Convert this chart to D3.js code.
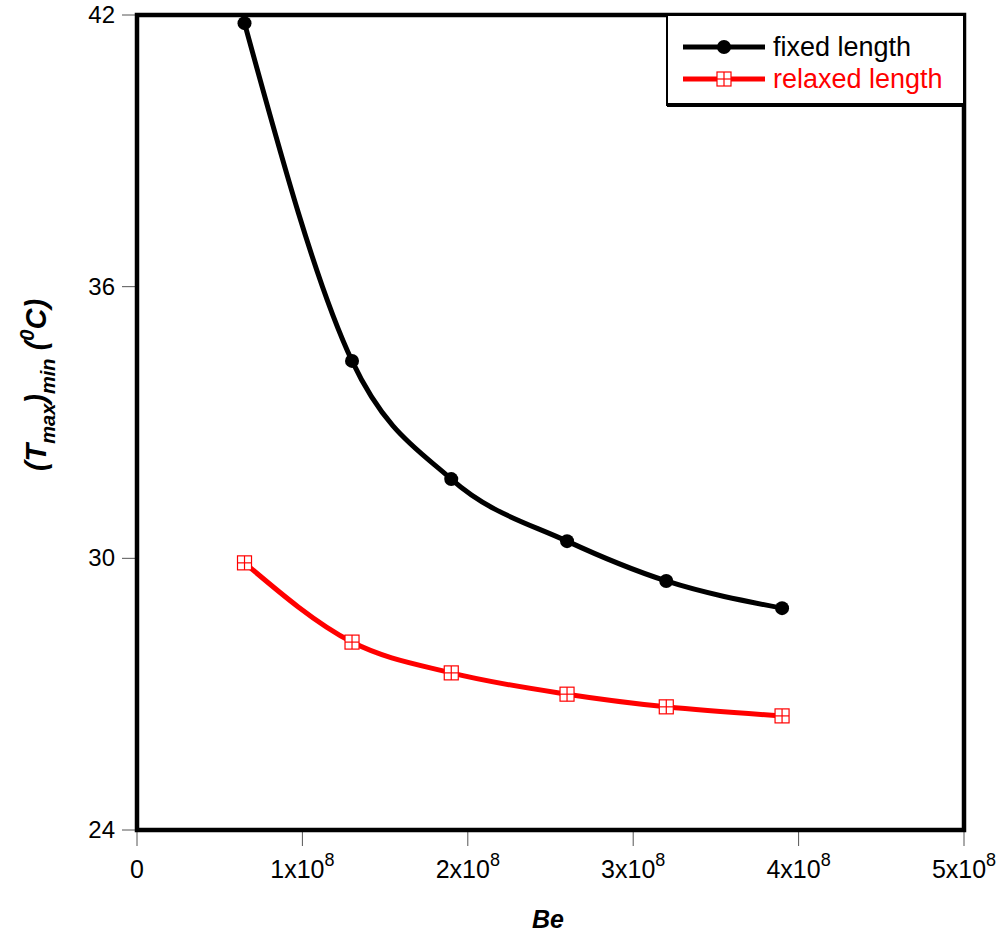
<!DOCTYPE html>
<html>
<head>
<meta charset="utf-8">
<script src="https://cdn.jsdelivr.net/npm/d3@7"></script>
<style>
  body { margin: 0; background: #fff; }
  text { font-family: "Liberation Sans", Arial, sans-serif; }
</style>
</head>
<body>
<div id="chart"></div>
<script>
// Data
const beValues = [0.65e8, 1.3e8, 1.9e8, 2.6e8, 3.2e8, 3.9e8];
const fixedLength = [41.82, 34.36, 31.75, 30.38, 29.5, 28.9];
const relaxedLength = [29.9, 28.15, 27.47, 27.0, 26.72, 26.52];
const xTicks = [0, 1e8, 2e8, 3e8, 4e8, 5e8];
const yTicks = [24, 30, 36, 42];

const width = 1007, height = 942;
const plotLeft = 137, plotRight = 964, plotTop = 15, plotBottom = 830;

const svg = d3.select('#chart')
    .append('svg')
    .attr('width', width)
    .attr('height', height);

const x = d3.scaleLinear().domain([0, 5e8]).range([plotLeft, plotRight]);
const y = d3.scaleLinear().domain([24, 42]).range([plotBottom, plotTop]);

// Ticks (thin gray, outside the frame)
svg.selectAll('line.xtick')
    .data(xTicks)
    .enter()
    .append('line')
        .attr('x1', d => x(d))
        .attr('x2', d => x(d))
        .attr('y1', plotBottom)
        .attr('y2', plotBottom + 16)
        .attr('stroke', '#555')
        .attr('stroke-width', 1);

svg.selectAll('line.ytick')
    .data(yTicks)
    .enter()
    .append('line')
        .attr('x1', plotLeft - 15)
        .attr('x2', plotLeft)
        .attr('y1', d => y(d))
        .attr('y2', d => y(d))
        .attr('stroke', '#555')
        .attr('stroke-width', 1);

// X tick labels with superscript exponent
const xLabels = svg.selectAll('text.xlabel')
    .data(xTicks)
    .enter()
    .append('text')
        .attr('x', d => x(d))
        .attr('y', 878)
        .attr('text-anchor', 'middle')
        .attr('font-size', '25px')
        .attr('fill', '#000');

xLabels.each(function(d) {
    const t = d3.select(this);
    if (d === 0) {
        t.text('0');
        return;
    }
    t.append('tspan').text(`${d / 1e8}x10`);
    t.append('tspan').text('8').attr('dy', -12).attr('font-size', '18px');
});

// Y tick labels
svg.selectAll('text.ylabel')
    .data(yTicks)
    .enter()
    .append('text')
        .attr('x', 115)
        .attr('y', d => y(d) + 8)
        .attr('text-anchor', 'end')
        .attr('font-size', '24px')
        .text(d => d);

// Axis titles
svg.append('text')
    .attr('x', 548)
    .attr('y', 928)
    .attr('text-anchor', 'middle')
    .attr('font-size', '25px')
    .attr('font-weight', 'bold')
    .attr('font-style', 'italic')
    .text('Be');

const yTitle = svg.append('text')
    .attr('transform', 'translate(46, 385) rotate(-90)')
    .attr('text-anchor', 'middle')
    .attr('font-size', '29px')
    .attr('font-weight', 'bold')
    .attr('font-style', 'italic');
yTitle.append('tspan').text('(T');
yTitle.append('tspan').text('max').attr('font-size', '20px').attr('dy', 9);
yTitle.append('tspan').text(')').attr('dy', -9);
yTitle.append('tspan').text('min').attr('font-size', '20px').attr('dy', 9);
yTitle.append('tspan').text(' (').attr('dy', -9);
yTitle.append('tspan').text('0').attr('font-size', '20px').attr('dy', -12);
yTitle.append('tspan').text('C)').attr('dy', 12);

// Curves
const line = d3.line()
    .x(d => x(d[0]))
    .y(d => y(d[1]))
    .curve(d3.curveMonotoneX);

const fixedData = beValues.map((b, i) => [b, fixedLength[i]]);
const relaxedData = beValues.map((b, i) => [b, relaxedLength[i]]);

svg.append('path')
    .datum(relaxedData)
    .attr('d', line)
    .attr('fill', 'none')
    .attr('stroke', '#ff0000')
    .attr('stroke-width', 5);

svg.append('path')
    .datum(fixedData)
    .attr('d', line)
    .attr('fill', 'none')
    .attr('stroke', '#000')
    .attr('stroke-width', 5);

// Square-with-cross marker
function crossSquare(g, cx, cy) {
    const s = 7;
    g.append('rect')
        .attr('x', cx - s)
        .attr('y', cy - s)
        .attr('width', 2 * s)
        .attr('height', 2 * s)
        .attr('fill', '#fff')
        .attr('stroke', '#ff0000')
        .attr('stroke-width', 1.2);
    g.append('line')
        .attr('x1', cx - s).attr('x2', cx + s)
        .attr('y1', cy).attr('y2', cy)
        .attr('stroke', '#ff0000').attr('stroke-width', 1.2);
    g.append('line')
        .attr('x1', cx).attr('x2', cx)
        .attr('y1', cy - s).attr('y2', cy + s)
        .attr('stroke', '#ff0000').attr('stroke-width', 1.2);
}

const redMarks = svg.append('g');
relaxedData.forEach(d => crossSquare(redMarks, x(d[0]), y(d[1])));

svg.selectAll('circle.fixed')
    .data(fixedData)
    .enter()
    .append('circle')
        .attr('cx', d => x(d[0]))
        .attr('cy', d => y(d[1]))
        .attr('r', 7)
        .attr('fill', '#000');

// Frame
svg.append('rect')
    .attr('x', plotLeft)
    .attr('y', plotTop)
    .attr('width', plotRight - plotLeft)
    .attr('height', plotBottom - plotTop)
    .attr('fill', 'none')
    .attr('stroke', '#000')
    .attr('stroke-width', 4.5);

// Legend
const lg = svg.append('g');
lg.append('rect')
    .attr('x', 667)
    .attr('y', plotTop)
    .attr('width', plotRight - 667)
    .attr('height', 90)
    .attr('fill', '#fff')
    .attr('stroke', '#000')
    .attr('stroke-width', 2);
lg.append('line')
    .attr('x1', 667).attr('x2', plotRight)
    .attr('y1', 105).attr('y2', 105)
    .attr('stroke', '#000').attr('stroke-width', 4);

lg.append('line')
    .attr('x1', 683).attr('x2', 765)
    .attr('y1', 47).attr('y2', 47)
    .attr('stroke', '#000').attr('stroke-width', 5);
lg.append('circle')
    .attr('cx', 724).attr('cy', 47).attr('r', 7).attr('fill', '#000');
lg.append('text')
    .attr('x', 773).attr('y', 56)
    .attr('font-size', '27px')
    .text('fixed length');

lg.append('line')
    .attr('x1', 683).attr('x2', 765)
    .attr('y1', 79).attr('y2', 79)
    .attr('stroke', '#ff0000').attr('stroke-width', 5);
crossSquare(lg, 724, 79);
lg.append('text')
    .attr('x', 773).attr('y', 88)
    .attr('font-size', '27px')
    .attr('fill', '#ff0000')
    .text('relaxed length');
</script>
</body>
</html>
